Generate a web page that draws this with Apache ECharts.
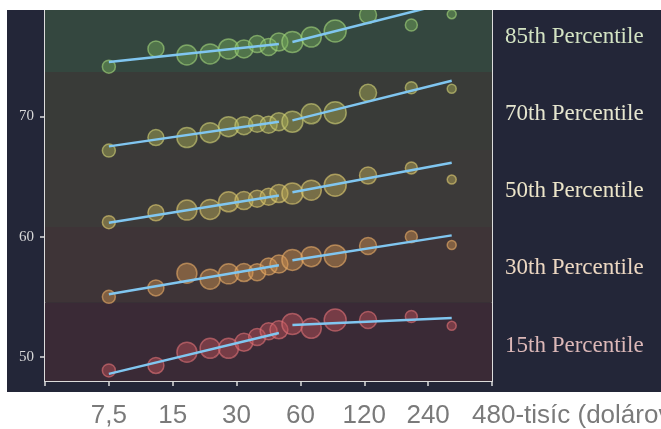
<!DOCTYPE html>
<html>
<head>
<meta charset="utf-8">
<script src="https://cdn.jsdelivr.net/npm/echarts@6/dist/echarts.min.js"></script>
<style>html,body{margin:0;padding:0;background:#fff;}#c{width:661px;height:429px;}</style>
</head>
<body>
<div id="c"></div>
<script>
// ---- data ----
const incomes = [7.5, 12.5, 17.5, 22.5, 27.5, 32.5, 37.5, 42.5, 47.5, 55, 67.5, 87.5, 125, 200, 310];
const weights = [13, 16, 20, 20, 20, 18, 17, 17, 18, 21, 20, 22, 17, 12, 9];
const p85 = [74.14, 75.61, 75.11, 75.20, 75.61, 75.61, 76.02, 75.77, 76.19, 76.19, 76.60, 77.10, 78.43, 77.60, 78.50];
const p70 = [67.16, 68.24, 68.24, 68.65, 69.15, 69.23, 69.39, 69.31, 69.56, 69.56, 70.22, 70.31, 71.96, 72.38, 72.30];
const p50 = [61.21, 61.99, 62.21, 62.27, 62.90, 63.00, 63.15, 63.32, 63.59, 63.59, 63.87, 64.28, 65.08, 65.72, 64.75];
const p30 = [55.00, 55.74, 56.97, 56.47, 56.91, 57.02, 57.05, 57.52, 57.72, 58.07, 58.34, 58.40, 59.23, 60.00, 59.31];
const p15 = [48.88, 49.29, 50.40, 50.72, 50.72, 51.22, 51.66, 52.13, 52.26, 52.74, 52.38, 53.07, 53.07, 53.37, 52.59];
const fitLowX = [7.5, 47.5];
const fitHighX = [55, 310];
const fitLow = { p85: [74.53, 76.03], p70: [67.51, 69.56], p50: [61.16, 63.43], p30: [55.22, 57.63], p15: [48.59, 51.99] };
const fitHigh = { p85: [76.19, 79.53], p70: [69.67, 72.96], p50: [63.70, 66.14], p30: [58.04, 60.11], p15: [52.65, 53.23] };
const bandEdges = [48.0, 54.5, 60.8, 67.2, 73.7, 78.85];
const seriesNames = ['85th Percentile', '70th Percentile', '50th Percentile', '30th Percentile', '15th Percentile'];
const xTickValues = [3.75, 7.5, 15, 30, 60, 120, 240, 480];
const xLabelValues = [7.5, 15, 30, 60, 120, 240];
const xLabelTexts = ['7,5', '15', '30', '60', '120', '240'];
const lastXLabel = '480-tisíc (dolárov)';
const yTickValues = [50, 60, 70];

// ---- styles ----
const keys = ['p85', 'p70', 'p50', 'p30', 'p15'];
const values = { p85, p70, p50, p30, p15 };
const fills = ['rgba(118,176,92,0.55)', 'rgba(176,180,88,0.55)', 'rgba(196,178,88,0.55)', 'rgba(214,150,82,0.55)', 'rgba(196,84,92,0.55)'];
const borders = ['rgba(165,215,125,0.75)', 'rgba(210,210,120,0.75)', 'rgba(225,205,115,0.75)', 'rgba(235,175,105,0.75)', 'rgba(225,115,120,0.75)'];
const labelColors = ['#d3e3c3', '#e6e6d0', '#ece5c9', '#ecd7c2', '#dcb8b8'];
// bottom to top
const bandColors = ['#3a2a36', '#3e3437', '#3c3a39', '#393b38', '#34473f'];
const ymin = 48.0, ymax = 78.85;
const axisCol = '#dcdcdc';

const chart = echarts.init(document.getElementById('c'), null, { renderer: 'canvas' });

const series = [];
series.push({
  type: 'line', data: [], silent: true, z: 1,
  markArea: {
    silent: true,
    data: bandColors.map((c, i) => [
      { yAxis: bandEdges[i], itemStyle: { color: c, opacity: 1, borderWidth: 0 } },
      { yAxis: bandEdges[i + 1] }
    ])
  }
});
keys.forEach((k, i) => {
  series.push({
    name: seriesNames[i], type: 'scatter', z: 3,
    data: incomes.map((x, j) => ({ value: [x, values[k][j]], symbolSize: weights[j] })),
    itemStyle: { color: fills[i], borderColor: borders[i], borderWidth: 1.5 },
    emphasis: { disabled: true }
  });
  [[fitLowX, fitLow[k]], [fitHighX, fitHigh[k]]].forEach(([xs, ys]) => {
    series.push({
      type: 'line', z: 4, symbol: 'none', silent: true,
      data: xs.map((x, j) => [x, ys[j]]),
      lineStyle: { color: '#80c6f0', width: 2.5 },
      emphasis: { disabled: true }
    });
  });
});

const texts = seriesNames.map((n, i) => ({
  type: 'text', left: 505, top: 25 + i * 77.3,
  style: { text: n, fill: labelColors[i], font: '23px "Liberation Serif", serif' }, z: 10
}));

const xBase = { type: 'log', logBase: 2, min: 3.75, max: 480, splitLine: { show: false } };
const yBase = { type: 'value', min: ymin, max: ymax, splitLine: { show: false } };

chart.setOption({
  animation: false,
  backgroundColor: '#ffffff',
  grid: { left: 45, right: 169, top: 10, bottom: 47, containLabel: false },
  xAxis: [
    Object.assign({}, xBase, {
      axisLine: { show: true, lineStyle: { color: axisCol, width: 2 } },
      axisTick: { show: true, inside: false, length: 5, lineStyle: { color: axisCol, width: 1.5 }, customValues: xTickValues },
      axisLabel: {
        show: true, margin: 22, color: '#7a7a7a', fontSize: 26, fontFamily: '"Liberation Sans", Arial, sans-serif',
        customValues: xLabelValues,
        formatter: v => { const idx = xLabelValues.findIndex(t => Math.abs(t - v) < 1e-6); return idx >= 0 ? xLabelTexts[idx] : ''; }
      }
    }),
    Object.assign({}, xBase, {
      axisLine: { show: false },
      axisTick: { show: true, inside: true, length: 5, lineStyle: { color: axisCol, width: 1.5 }, customValues: xTickValues },
      axisLabel: { show: false }
    })
  ],
  yAxis: [
    Object.assign({}, yBase, {
      position: 'left',
      axisLine: { show: true, lineStyle: { color: axisCol, width: 2 } },
      axisTick: { show: true, inside: false, length: 5, lineStyle: { color: axisCol, width: 1.5 }, customValues: yTickValues },
      axisLabel: { show: true, margin: 11, color: '#d8d8d8', fontSize: 15, fontFamily: '"Liberation Serif", serif', customValues: yTickValues }
    }),
    Object.assign({}, yBase, {
      position: 'left',
      axisLine: { show: false },
      axisTick: { show: true, inside: true, length: 7, lineStyle: { color: axisCol, width: 1.5 }, customValues: yTickValues },
      axisLabel: { show: false }
    }),
    Object.assign({}, yBase, {
      position: 'right',
      axisLine: { show: true, lineStyle: { color: axisCol, width: 2 } },
      axisTick: { show: false }, axisLabel: { show: false }
    })
  ],
  graphic: [
    { type: 'rect', shape: { x: 7, y: 10, width: 654, height: 382 }, style: { fill: '#232638' }, z: -10, silent: true },
    { type: 'rect', shape: { x: 0, y: 0, width: 661, height: 10 }, style: { fill: '#ffffff' }, z: 100, silent: true },
    { type: 'text', left: 472, top: 403, style: { text: lastXLabel, fill: '#7a7a7a', font: '26px "Liberation Sans", Arial, sans-serif' }, z: 10 }
  ].concat(texts),
  series: series
});
</script>
</body>
</html>
